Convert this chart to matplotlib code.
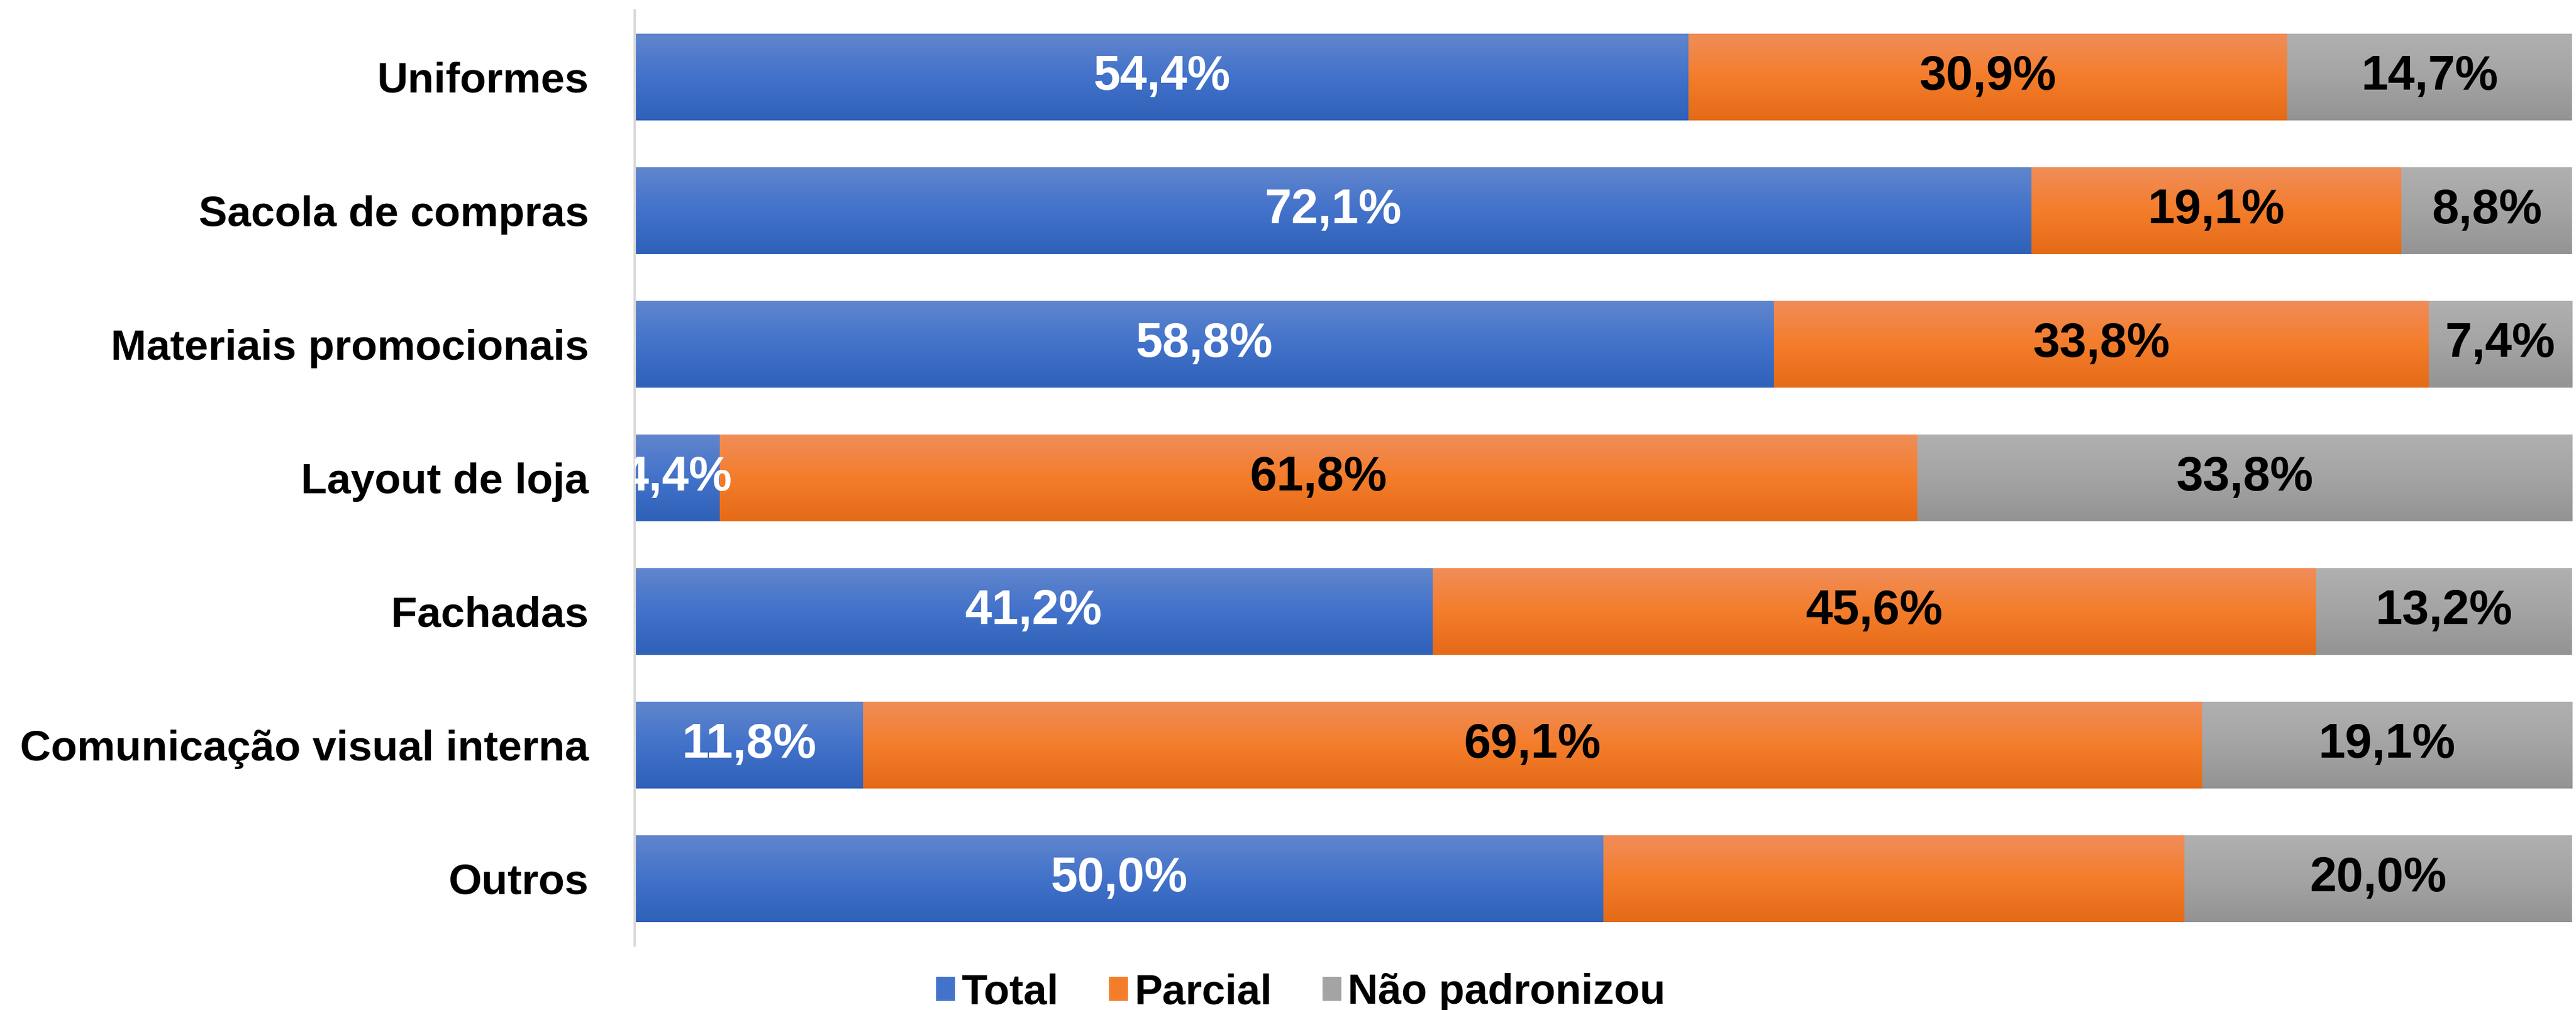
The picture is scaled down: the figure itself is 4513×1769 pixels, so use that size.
import matplotlib
matplotlib.use("Agg")
import matplotlib.pyplot as plt
import numpy as np
from matplotlib.colors import LinearSegmentedColormap

plt.rcParams['font.family'] = ['Liberation Sans', 'DejaVu Sans']
plt.rcParams['font.weight'] = 'bold'

categories = ['Uniformes', 'Sacola de compras', 'Materiais promocionais',
              'Layout de loja', 'Fachadas', 'Comunicação visual interna', 'Outros']
total = [54.4, 72.1, 58.8, 4.4, 41.2, 11.8, 50.0]
parcial = [30.9, 19.1, 33.8, 61.8, 45.6, 69.1, 30.0]
nao = [14.7, 8.8, 7.4, 33.8, 13.2, 19.1, 20.0]
series_names = ['Total', 'Parcial', 'Não padronizou']
# labels shown on the chart (Outros / Parcial has none)
show_label = [[True] * 7, [True] * 6 + [False], [True] * 7]

grads = [('#6186CD', '#4272CA', '#2F61B9'),
         ('#F08D5A', '#F47D2B', '#E46A17'),
         ('#B0B0B0', '#A4A4A4', '#939393')]
label_colors = ['white', 'black', 'black']

fig = plt.figure(figsize=(45.13, 17.69), dpi=100)
ax = fig.add_axes([0.2464, 0.064, 0.752, 0.926])

y = np.arange(len(categories))
left = np.zeros(len(categories))
for i, vals in enumerate([total, parcial, nao]):
    vals = np.array(vals)
    bars = ax.barh(y, vals, left=left, height=0.65, color=grads[i][1],
                   label=series_names[i], edgecolor='none')
    cmap = LinearSegmentedColormap.from_list('g%d' % i, grads[i])
    grad = np.linspace(0, 1, 256).reshape(-1, 1)
    for j, b in enumerate(bars):
        x0, y0 = b.get_x(), b.get_y()
        w, h = b.get_width(), b.get_height()
        im = ax.imshow(grad, cmap=cmap, aspect='auto', origin='upper',
                       extent=[x0, x0 + w, y0 + h, y0], zorder=b.get_zorder() + 0.1)
        im.set_clip_path(b)
        if show_label[i][j]:
            ax.text(x0 + w / 2, y[j], ('%.1f%%' % vals[j]).replace('.', ','),
                    ha='center', va='center', color=label_colors[i],
                    fontsize=61, fontweight='bold', clip_on=True, zorder=5)
    left = left + vals

ax.set_xlim(0, 100)
ax.set_ylim(len(categories) - 0.5, -0.5)
ax.set_yticks(y)
ax.set_yticklabels(categories, fontsize=54, fontweight='bold')
ax.tick_params(axis='y', length=0, pad=58)
ax.set_xticks([])
for s in ['top', 'right', 'bottom']:
    ax.spines[s].set_visible(False)
ax.spines['left'].set_color('#D9D9D9')
ax.spines['left'].set_linewidth(3)

handles, labels = ax.get_legend_handles_labels()
leg = fig.legend(handles, labels, loc='center', bbox_to_anchor=(0.505, 0.017), ncol=3,
                 frameon=False, fontsize=53, handlelength=0.45, handleheight=0.5,
                 handletextpad=0.15, columnspacing=1.2)
for t in leg.get_texts():
    t.set_fontweight('bold')

fig.savefig('out.png', dpi=100)
